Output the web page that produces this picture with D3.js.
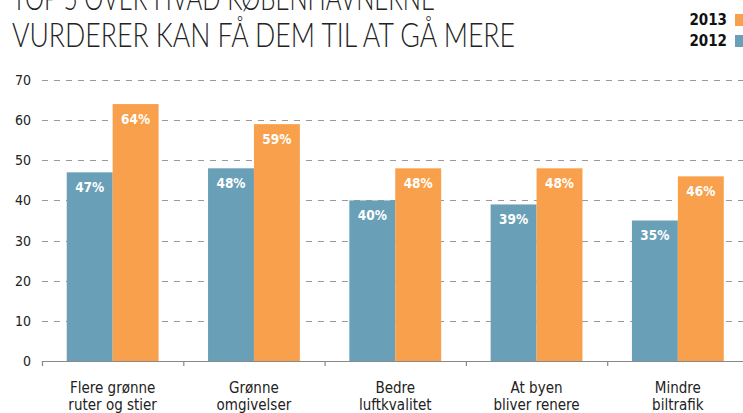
<!DOCTYPE html>
<html><head><meta charset="utf-8">
<script src="https://cdn.jsdelivr.net/npm/d3@7"></script>
<style>
html,body{margin:0;padding:0;background:#fff;}
svg{display:block;}
text{font-family:"Liberation Sans Narrow","DejaVu Sans Condensed","Arial Narrow",sans-serif;}
text.title{font-family:Lato,"Open Sans",sans-serif;}
</style></head>
<body>
<svg id="chart" width="743" height="413"></svg>
<script>
const categories = [["Flere grønne","ruter og stier"],["Grønne","omgivelser"],["Bedre","luftkvalitet"],["At byen","bliver renere"],["Mindre","biltrafik"]];
const values2012 = [47,48,40,39,35];
const values2013 = [64,59,48,48,46];
const yTicks = [0,10,20,30,40,50,60,70];
const seriesNames = ["2012","2013"];
const titleLines = ["TOP 5 OVER HVAD KØBENHAVNERNE","VURDERER KAN FÅ DEM TIL AT GÅ MERE"];

const colors = {"2012":"#6aa0b7","2013":"#f8a04b"};
const svg = d3.select("#chart");
const left = 42, right = 748.5, y0 = 361, yTop = 80;

const x = d3.scaleBand().domain(d3.range(categories.length)).range([left,right]).paddingInner(0.35).paddingOuter(0.175);
const xs = d3.scaleBand().domain(seriesNames).range([0,x.bandwidth()]);
const y = d3.scaleLinear().domain([0,70]).range([y0,yTop]);

// title
svg.append("g").selectAll("text").data(titleLines).join("text").attr("class","title")
  .attr("x",12).attr("y",(d,i)=>10+i*37)
  .attr("textLength",(d,i)=>i===0?423:503).attr("lengthAdjust","spacingAndGlyphs")
  .attr("font-size",34).attr("fill","#222").attr("font-weight",300)
  .text(d=>d);

// legend
const legend = [{k:"2013",y:20},{k:"2012",y:41}];
const lg = svg.append("g");
lg.selectAll("text").data(legend).join("text")
  .attr("x",727).attr("y",d=>d.y+5).attr("text-anchor","end")
  .attr("font-size",15).attr("font-weight","bold").attr("fill","#111").text(d=>d.k);
lg.selectAll("rect").data(legend).join("rect")
  .attr("x",735).attr("y",d=>d.y-6).attr("width",12).attr("height",12)
  .attr("fill",d=>colors[d.k]);

// grid
svg.append("g").selectAll("line").data(yTicks.filter(t=>t>0)).join("line")
  .attr("x1",left).attr("x2",right).attr("y1",d=>Math.round(y(d))+0.5).attr("y2",d=>Math.round(y(d))+0.5)
  .attr("stroke","#999").attr("stroke-width",1.2).attr("stroke-dasharray","6,6");

// y labels
svg.append("g").selectAll("text").data(yTicks).join("text")
  .attr("x",31).attr("y",d=>y(d)+5).attr("text-anchor","end")
  .attr("font-size",14).attr("fill","#222").text(d=>d);

// bars
const data = categories.map((c,i)=>({i, vals:[{k:"2012",v:values2012[i]},{k:"2013",v:values2013[i]}]}));
const g = svg.append("g").selectAll("g").data(data).join("g").attr("transform",d=>`translate(${x(d.i)},0)`);
g.selectAll("rect").data(d=>d.vals).join("rect")
  .attr("x",d=>xs(d.k)).attr("width",xs.bandwidth())
  .attr("y",d=>y(d.v)).attr("height",d=>y0-y(d.v)).attr("fill",d=>colors[d.k]);
g.selectAll("text").data(d=>d.vals).join("text")
  .attr("x",d=>xs(d.k)+xs.bandwidth()/2).attr("y",d=>y(d.v)+19.5)
  .attr("text-anchor","middle").attr("font-size",13.5).attr("font-weight","bold").attr("fill","#fff")
  .text(d=>d.v+"%");

// x axis
svg.append("line").attr("x1",left).attr("x2",right).attr("y1",y0+0.5).attr("y2",y0+0.5).attr("stroke","#888").attr("stroke-width",1.2);
const step = x.step();
svg.append("g").selectAll("line").data(d3.range(categories.length+1)).join("line")
  .attr("x1",d=>left+d*step+0.5).attr("x2",d=>left+d*step+0.5).attr("y1",y0).attr("y2",y0+5)
  .attr("stroke","#888").attr("stroke-width",1.2);
const xl = svg.append("g").selectAll("text").data(categories.map((c,i)=>({c,i}))).join("text")
  .attr("text-anchor","middle").attr("font-size",15).attr("fill","#222");
xl.selectAll("tspan").data(d=>d.c.map(t=>({t,cx:x(d.i)+x.bandwidth()/2}))).join("tspan")
  .attr("x",d=>d.cx).attr("y",(d,j)=>393+j*17).text(d=>d.t);
</script>
</body></html>
